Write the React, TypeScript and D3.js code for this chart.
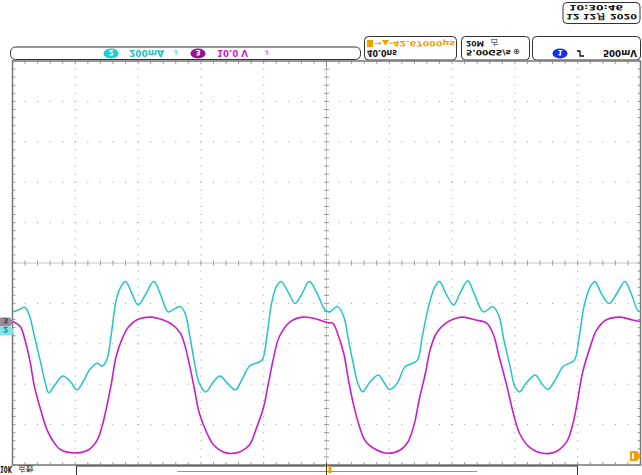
import React from 'react'
import * as d3 from 'd3'

// Time in ns (40 ns/div, trigger at centre), level in screen divisions
const ch2Trace: [number, number][] = [
  [-200, -1.21], [-196, -1.16], [-192, -1.1], [-189, -1.33], [-186, -1.82], [-182, -2.48], [-179, -2.98], [-177, -3.21],
  [-173, -3.02], [-168, -2.8], [-163, -2.94], [-159, -3.14], [-155, -2.94], [-151, -2.65], [-146, -2.48], [-143, -2.55],
  [-140, -2.4], [-137, -1.74], [-134, -0.92], [-131, -0.59], [-128, -0.46], [-124, -0.75], [-120, -1.04], [-116, -0.83],
  [-110, -0.46], [-106, -0.75], [-101, -1.21], [-98, -1.16], [-93, -1.08], [-90, -1.25], [-87, -1.82], [-84, -2.48],
  [-81, -2.98], [-77, -3.19], [-72, -2.94], [-68, -2.8], [-63, -2.98], [-58, -3.14], [-54, -2.9], [-49, -2.55],
  [-45, -2.48], [-41, -2.4], [-38, -1.82], [-35, -1.0], [-32, -0.59], [-29, -0.46], [-24, -0.75], [-20, -1.0],
  [-16, -0.79], [-11, -0.46], [-6, -0.75], [-1, -1.16], [2, -1.21], [7, -1.08], [11, -1.33], [14, -1.91],
  [17, -2.48], [20, -2.98], [23, -3.19], [27, -2.98], [33, -2.77], [37, -2.98], [40, -3.13], [45, -2.98],
  [50, -2.57], [55, -2.48], [58, -2.4], [61, -1.82], [65, -1.08], [69, -0.59], [72, -0.46], [76, -0.75],
  [81, -1.04], [85, -0.75], [90, -0.44], [94, -0.75], [100, -1.21], [106, -1.08], [110, -1.33], [113, -1.91],
  [117, -2.57], [120, -3.06], [123, -3.19], [127, -2.98], [133, -2.77], [137, -2.98], [141, -3.13], [145, -2.94],
  [151, -2.55], [155, -2.48], [158, -2.4], [161, -1.82], [164, -1.08], [168, -0.59], [171, -0.46], [175, -0.75],
  [180, -1.0], [185, -0.75], [190, -0.46], [194, -0.75], [198, -1.16], [200, -1.21],
]

const ch3Trace: [number, number][] = [
  [-200, -1.45], [-195, -1.58], [-192, -1.91], [-189, -2.4], [-186, -3.06], [-182, -3.64], [-178, -4.13], [-174, -4.42],
  [-169, -4.63], [-159, -4.7], [-151, -4.61], [-146, -4.38], [-143, -4.05], [-140, -3.56], [-137, -2.98], [-134, -2.32],
  [-130, -1.86], [-126, -1.58], [-121, -1.41], [-112, -1.34], [-104, -1.41], [-98, -1.53], [-93, -1.74], [-90, -2.07],
  [-87, -2.57], [-84, -3.14], [-81, -3.72], [-76, -4.22], [-72, -4.5], [-64, -4.7], [-55, -4.67], [-49, -4.5],
  [-45, -4.13], [-40, -3.56], [-37, -2.98], [-34, -2.4], [-30, -1.82], [-23, -1.45], [-15, -1.34], [-6, -1.39],
  [1, -1.48], [4, -1.49], [7, -1.74], [11, -2.24], [14, -2.9], [17, -3.47], [21, -4.05], [25, -4.42],
  [32, -4.63], [39, -4.71], [47, -4.63], [52, -4.42], [56, -3.97], [59, -3.39], [63, -2.73], [66, -2.15],
  [70, -1.74], [76, -1.49], [86, -1.34], [95, -1.41], [102, -1.49], [106, -1.74], [110, -2.32], [115, -3.06],
  [119, -3.72], [123, -4.22], [129, -4.55], [138, -4.71], [146, -4.67], [153, -4.42], [157, -3.97], [160, -3.39],
  [163, -2.73], [168, -2.07], [172, -1.66], [178, -1.41], [187, -1.34], [195, -1.41], [200, -1.45],
]

const groundLevels = { ch3: -1.46, ch2: -1.67 }
const triggerLevel = -4.78
const overviewSpan: [number, number] = [-95, 96] // cyan segment in record bar (in ns of the screen scale)

const CYAN = '#22c4c8'
const MAGENTA = '#c81ec8'
const ORANGE = '#f0a000'
const GRID = '#9a9a9a'

const W = 642
const H = 475

function FlipText(props: {
  x: number; y: number; w?: number; size: number; fill?: string; weight?: string; family?: string; children: React.ReactNode
}) {
  const { x, y, w, size, fill = '#111', weight = 'bold', family = 'DejaVu Sans', children } = props
  return (
    <text
      transform={`translate(${x},${y}) scale(1,-1)`}
      fontSize={size}
      fill={fill}
      fontWeight={weight}
      fontFamily={family}
      textLength={w}
      lengthAdjust={w ? 'spacingAndGlyphs' : undefined}
    >
      {children}
    </text>
  )
}

function Badge(props: { cx: number; cy: number; fill: string; label: string }) {
  return (
    <g>
      <ellipse cx={props.cx} cy={props.cy} rx={7.5} ry={5} fill={props.fill} />
      <FlipText x={props.cx - 2.5} y={props.cy - 3.5} size={7.5} fill="#fff">{props.label}</FlipText>
    </g>
  )
}

export default function App() {
  const x = d3.scaleLinear().domain([-200, 200]).range([12.5, 640.5])
  const y = d3.scaleLinear().domain([-5, 5]).range([465, 61])

  const majorX = d3.range(-200, 201, 40)
  const minorX = d3.range(-200, 200.1, 8)
  const majorY = d3.range(-5, 5.01, 1)
  const minorY = d3.range(-5, 5.01, 0.2)

  const line = d3.line<[number, number]>()
    .x(d => x(d[0]))
    .y(d => y(d[1]))
    .curve(d3.curveCatmullRom.alpha(0.5))

  const dots: { cx: number; cy: number }[] = []
  majorY.slice(1, -1).forEach(v => {
    if (v === 0) return
    minorX.slice(1, -1).forEach(t => dots.push({ cx: x(t), cy: y(v) }))
  })
  majorX.slice(1, -1).forEach(t => {
    if (t === 0) return
    minorY.slice(1, -1).forEach(v => dots.push({ cx: x(t), cy: y(v) }))
  })

  return (
    <div style={{ position: 'fixed', left: 0, top: 0 }}>
      <svg width={W} height={H} style={{ display: 'block', background: '#fff' }}>
        {/* time / date box */}
        <rect x={563} y={2.5} width={77} height={21} rx={4} fill="none" stroke="#333" strokeWidth={1} />
        <FlipText x={569} y={4.5} w={54} size={7.5}>10:30:46</FlipText>
        <FlipText x={566} y={13.5} w={71} size={7.5}>12 12月 2020</FlipText>

        {/* channel box */}
        <rect x={10.5} y={47} width={350} height={12.5} rx={5} fill="none" stroke="#333" strokeWidth={1} />
        <Badge cx={111} cy={53.5} fill="#18d0d8" label="2" />
        <FlipText x={129} y={50} w={35} size={8} fill={CYAN}>200mA</FlipText>
        <FlipText x={174} y={50} size={7} fill={CYAN} weight="normal">∂</FlipText>
        <Badge cx={198} cy={53.5} fill="#9a0f9a" label="3" />
        <FlipText x={217} y={50} w={31} size={8} fill={MAGENTA}>10.0 V</FlipText>
        <FlipText x={265} y={50} size={7} fill={MAGENTA} weight="normal">∂</FlipText>

        {/* horizontal box */}
        <rect x={364.5} y={36.5} width={92} height={23.5} rx={4} fill="none" stroke="#333" strokeWidth={1} />
        <rect x={367} y={40} width={6} height={7} fill={ORANGE} />
        <FlipText x={374} y={40.5} w={81} size={7.5} fill={ORANGE}>→▲-42.67000μs</FlipText>
        <FlipText x={367} y={49.5} w={30} size={8}>40.0ns</FlipText>

        {/* acquisition box */}
        <rect x={461.5} y={36.5} width={68} height={23.5} rx={4} fill="none" stroke="#333" strokeWidth={1} />
        <FlipText x={466} y={40.5} w={18} size={7.5}>20M</FlipText>
        <FlipText x={491} y={40} size={8} weight="normal">占</FlipText>
        <FlipText x={466} y={49.5} w={45} size={7.5}>5.00GS/s</FlipText>
        <FlipText x={513} y={49} size={8} weight="normal">⊕</FlipText>

        {/* trigger box */}
        <rect x={532.5} y={36.5} width={108} height={23.5} rx={4} fill="none" stroke="#333" strokeWidth={1} />
        <Badge cx={560} cy={53.5} fill="#1030ee" label="1" />
        <path d="M577,51 h3 v5 h4" fill="none" stroke="#111" strokeWidth={1.3} />
        <FlipText x={603} y={49.5} w={34} size={8}>500mV</FlipText>

        {/* graticule */}
        <g>
          {dots.map((d, i) => (
            <rect key={i} x={d.cx - 0.5} y={d.cy - 0.5} width={1} height={1} fill={GRID} />
          ))}
          {/* centre axes */}
          <line x1={x(-200)} x2={x(200)} y1={y(0)} y2={y(0)} stroke="#c8c8c8" strokeWidth={1} />
          <line x1={x(0)} x2={x(0)} y1={y(-5)} y2={y(5)} stroke="#c8c8c8" strokeWidth={1} />
          {minorX.map((t, i) => (
            <g key={'tx' + i}>
              <line x1={x(t)} x2={x(t)} y1={y(0) - 2.5} y2={y(0) + 2.5} stroke={GRID} />
              <line x1={x(t)} x2={x(t)} y1={y(5)} y2={y(5) + 3} stroke={GRID} />
              <line x1={x(t)} x2={x(t)} y1={y(-5)} y2={y(-5) - 3} stroke={GRID} />
            </g>
          ))}
          {minorY.map((v, i) => (
            <g key={'ty' + i}>
              <line x1={x(0) - 2.5} x2={x(0) + 2.5} y1={y(v)} y2={y(v)} stroke={GRID} />
              <line x1={x(-200)} x2={x(-200) + 3} y1={y(v)} y2={y(v)} stroke={GRID} />
              <line x1={x(200)} x2={x(200) - 3} y1={y(v)} y2={y(v)} stroke={GRID} />
            </g>
          ))}
          <line x1={x(0)} x2={x(0)} y1={y(5)} y2={y(5) + 6} stroke="#888" />
          <rect x={x(-200)} y={y(5)} width={x(200) - x(-200)} height={y(-5) - y(5)} fill="none" stroke="#777" strokeWidth={1.5} />
        </g>

        {/* traces */}
        <path d={line(ch2Trace) ?? ''} fill="none" stroke={CYAN} strokeWidth={1.5} />
        <path d={line(ch3Trace) ?? ''} fill="none" stroke={MAGENTA} strokeWidth={1.6} />

        {/* ground markers */}
        <path d={`M0,${y(groundLevels.ch3) - 4.5} h10 l3,4.5 l-3,4.5 h-10 z`} fill="#9a8c9a" />
        <FlipText x={3} y={y(groundLevels.ch3) - 3.5} size={7.5} fill="#444">3</FlipText>
        <path d={`M0,${y(groundLevels.ch2) - 4} h9 a4,4 0 0 1 0,9 h-9 z`} fill="#7ee6ea" />
        <FlipText x={3} y={y(groundLevels.ch2) - 3} size={7.5} fill="#2a7f85">2</FlipText>

        {/* trigger level marker */}
        <path d={`M630,${y(triggerLevel) - 5} h7 l4,5 l-4,5 h-7 z`} fill={ORANGE} />
        <rect x={632} y={y(triggerLevel) - 3} width={2} height={6} fill="#fff" />

        {/* record overview bar */}
        <rect x={76.5} y={466} width={501} height={12} fill="#fff" stroke="#333" strokeWidth={1} />
        <line x1={x(overviewSpan[0])} x2={x(overviewSpan[1])} y1={471.5} y2={471.5} stroke={CYAN} strokeWidth={1} />
        <path d={`M${x(0) - 3},467 l3,-4 l3,4 z`} fill={ORANGE} />
        <line x1={x(0)} x2={x(0)} y1={463} y2={475} stroke="#333" strokeWidth={1} />
        <rect x={x(0) + 2} y={466} width={3} height={7} fill={ORANGE} />

        <FlipText x={0} y={466} w={12} size={9}>10K</FlipText>
        <FlipText x={18} y={466} w={16} size={7.5} weight="normal">点数</FlipText>
      </svg>
    </div>
  )
}
